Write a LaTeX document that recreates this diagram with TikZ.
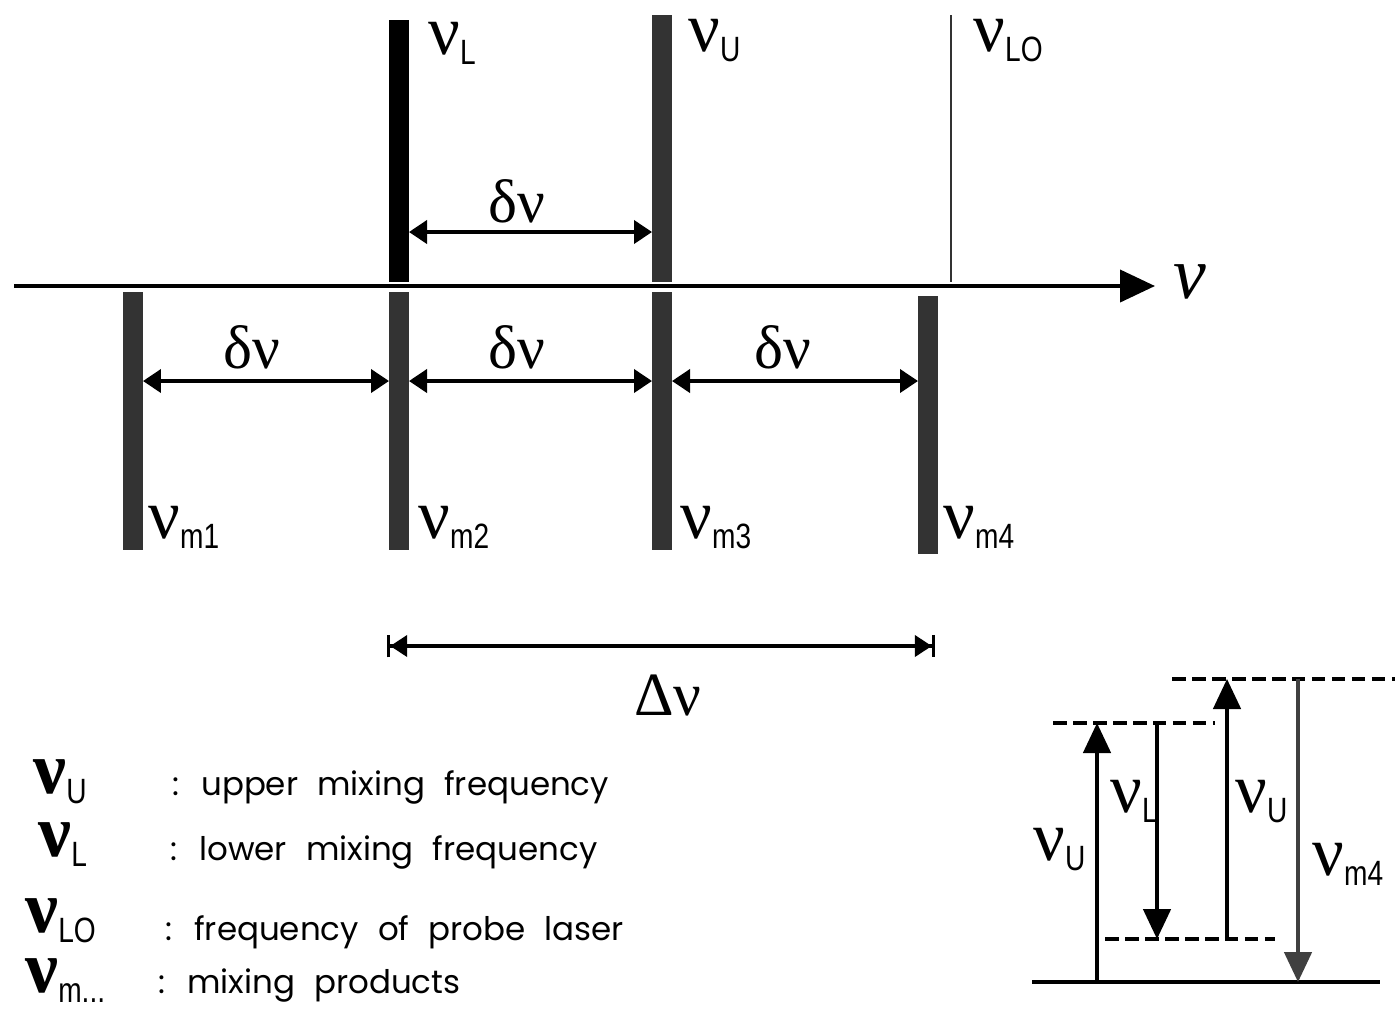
\documentclass[tikz,border=0pt]{standalone}
\usepackage{fontspec}
\usetikzlibrary{positioning,arrows.meta}
\newfontfamily\grk{Liberation Serif}
\newfontfamily\subf[FakeStretch=0.8]{Liberation Sans}
\newfontfamily\legf[WordSpace=2.2]{Poppins}
\definecolor{bargray}{HTML}{333333}

% nu with a sans subscript
\newcommand{\nuA}[1]{{\fontsize{40}{40}\selectfont\grk ν}\raisebox{-6pt}{\fontsize{20}{20}\selectfont\subf #1}}
\newcommand{\nuB}[1]{{\fontsize{42}{42}\selectfont\grk\bfseries ν}\raisebox{-6pt}{\fontsize{20}{20}\selectfont\subf #1}}

\begin{document}
\begin{tikzpicture}[x=0.02cm, y=-0.02cm,
    bar/.style={fill=bargray, draw=none, minimum width=0.4cm, inner sep=0pt, outer sep=0pt},
    lbl/.style={anchor=base west, inner sep=0pt},
    dl/.style={anchor=base, inner sep=0pt, font=\grk\fontsize{35}{35}\selectfont},
    dim/.style={line width=2.2pt, {Triangle[length=0.36cm,width=0.46cm]}-{Triangle[length=0.36cm,width=0.46cm]}},
    span/.style={line width=2.2pt, {Bar[width=0.45cm,line width=1.8pt]Triangle[length=0.34cm,width=0.42cm]}-{Triangle[length=0.34cm,width=0.42cm]Bar[width=0.45cm,line width=1.8pt]}},
    lvl/.style={line width=2pt, dash pattern=on 0.27cm off 0.13cm},
    tr/.style={line width=1.8pt, -{Triangle[length=0.6cm,width=0.55cm]}},
    leg/.style={anchor=base west, inner sep=0pt, font=\legf\fontsize{18.5}{18.5}\selectfont}]
  \useasboundingbox (0,0) rectangle (1395,1009);

  % ---- frequency axis
  \coordinate (ax0) at (14,286);
  \coordinate (ax1) at (1155,286);
  \draw[line width=2.3pt, -{Triangle[length=0.7cm,width=0.64cm]}] (ax0) -- (ax1);
  \node[dl, anchor=base west, font=\grk\itshape\fontsize{42}{42}\selectfont] (nuax) at (1173,298) {ν};

  % ---- mixing lasers
  \node[bar, fill=black, minimum height=5.24cm] (bL) at (399,151) {};
  \node[bar, minimum height=5.34cm] (bU) at (662,148.5) {};
  \node[bar, minimum width=0.045cm, minimum height=5.34cm] (bLO) at (951,148.5) {};
  \node[lbl] (tL) at (428,54) {\nuA{L}};
  \node[lbl] (tU) at (688,51) {\nuA{U}};
  \node[lbl] (tLO) at (973,51) {\nuA{LO}};
  \coordinate (h1) at (0,232);
  \draw[dim] (bL.east |- h1) -- (bU.west |- h1);
  \node[dl] (d0) at (517,222) {δν};

  % ---- mixing products
  \foreach \n/\xx/\yy in {1/133/421, 2/399/421, 3/662/421, 4/928/425}
    \node[bar, minimum height=5.16cm] (m\n) at (\xx,\yy) {};
  \foreach \n/\xx in {1/148, 2/418, 3/680, 4/943}
    \node[lbl] (tm\n) at (\xx,538) {\nuA{m\n}};
  \coordinate (h2) at (0,381);
  \foreach \a/\b/\xx in {1/2/252, 2/3/517, 3/4/783} {
    \draw[dim] (m\a.east |- h2) -- (m\b.west |- h2);
    \node[dl] (d\a) at (\xx,368) {δν};
  }

  % ---- span
  \coordinate (D0) at (387,646);
  \coordinate (D1) at (935,646);
  \draw[span] (D0) -- (D1);
  \node[dl] (Dl) at (668,715) {Δν};

  % ---- legend
  \node[lbl] (kU) at (33,793) {\nuB{U}};
  \node[leg] (xU) at (172,795) {: upper mixing frequency};
  \node[lbl] (kL) at (38,856) {\nuB{L}};
  \node[leg] (xL) at (170,860) {: lower mixing frequency};
  \node[lbl] (kLO) at (25,932) {\nuB{LO}};
  \node[leg] (xLO) at (165,940) {: frequency of probe laser};
  \node[lbl] (km) at (25,992) {\nuB{m...}};
  \node[leg] (xm) at (158,993) {: mixing products};

  % ---- level scheme
  \coordinate (g0) at (1032,982);  \coordinate (g1) at (1380,982);
  \coordinate (e1a) at (1053,723); \coordinate (e1b) at (1215,723);
  \coordinate (e2a) at (1105,939); \coordinate (e2b) at (1275,939);
  \coordinate (e3a) at (1172,679); \coordinate (e3b) at (1395,679);
  \draw[line width=2.3pt] (g0) -- (g1);
  \draw[lvl] (e1a) -- (e1b);
  \draw[lvl] (e2a) -- (e2b);
  \draw[lvl] (e3a) -- (e3b);
  \draw[tr] (g0 -| 1097,0) -- (e1a -| 1097,0);
  \draw[tr] (e1a -| 1157,0) -- (e2a -| 1157,0);
  \draw[tr] (e2a -| 1227,0) -- (e3a -| 1227,0);
  \draw[tr, black!75] (e3a -| 1298,0) -- (g0 -| 1298,0);
  \node[lbl] (sU1) at (1033,860) {\nuA{U}};
  \node[lbl] (sL) at (1110,812) {\nuA{L}};
  \node[lbl] (sU2) at (1235,812) {\nuA{U}};
  \node[lbl] (sm4) at (1312,875) {\nuA{m4}};
\end{tikzpicture}
\end{document}
